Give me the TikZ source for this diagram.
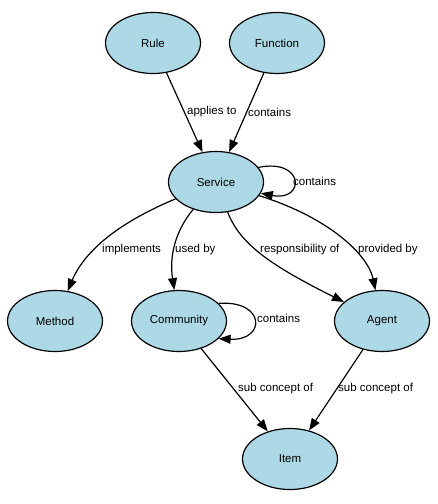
\documentclass[tikz,border=0pt]{standalone}
\usepackage{fontspec}
\setmainfont{Liberation Sans}
\usetikzlibrary{shapes.geometric,arrows.meta}
\definecolor{conceptblue}{RGB}{173,216,230}
\tikzset{
	concept/.style={ellipse, draw=black, line width=1.2pt, fill=conceptblue, minimum width=95pt, minimum height=61pt, inner sep=0pt, font=\fontsize{11.5}{13}\selectfont},
	rel/.style={line width=1.2pt, -{Triangle[length=12pt,width=9pt]}},
	lbl/.style={anchor=west, inner sep=0pt, font=\fontsize{11.5}{13}\selectfont}
}
\begin{document}
\begin{tikzpicture}[x=1pt, y=-1pt]
			%%%%% START %%%%%
			\useasboundingbox (0, 0) rectangle (438, 504);
			
			\node[concept] (rule) at (153, 43) {Rule};
			\node[concept] (function) at (277, 43) {Function};
			\node[concept] (service) at (216, 182) {Service};
			\node[concept] (method) at (55, 321) {Method};
			\node[concept] (community) at (179, 321) {Community};
			\node[concept] (agent) at (382, 321) {Agent};
			\node[concept] (item) at (290, 459) {Item};
			
			\draw[rel] (rule) -- (service);
			\node[lbl] (appliesto) at (187, 112) {applies to};
			\draw[rel] (function) -- (service);
			\node[lbl] (fncontains) at (248, 112) {contains};
			
			\draw[rel] (service.19) .. controls (305, 158) and (305, 202) .. (service.-14);
			\node[lbl] (svccontains) at (293, 181) {contains};
			
			\draw[rel] (service) .. controls (120, 222) and (85, 250) .. (method);
			\node[lbl] (implements) at (102, 250) {implements};
			\draw[rel] (service) .. controls (176, 230) and (169, 255) .. (community);
			\node[lbl] (usedby) at (175, 250) {used by};
			\draw[rel] (service) .. controls (240, 244) and (270, 265) .. (agent);
			\node[lbl] (responsible) at (260, 250) {responsibility of};
			\draw[rel] (service) .. controls (330, 218) and (368, 255) .. (agent);
			\node[lbl] (providedby) at (358, 250) {provided by};
			
			\draw[rel] (community.24) .. controls (266, 300) and (266, 341) .. (community.-24);
			\node[lbl] (comcontains) at (257, 318) {contains};
			
			\draw[rel] (community) -- (item);
			\node[lbl] (subcomm) at (238, 389) {sub concept of};
			\draw[rel] (agent) -- (item);
			\node[lbl] (subagent) at (338, 389) {sub concept of};
			%%%%% END %%%%%
\end{tikzpicture}
\end{document}
